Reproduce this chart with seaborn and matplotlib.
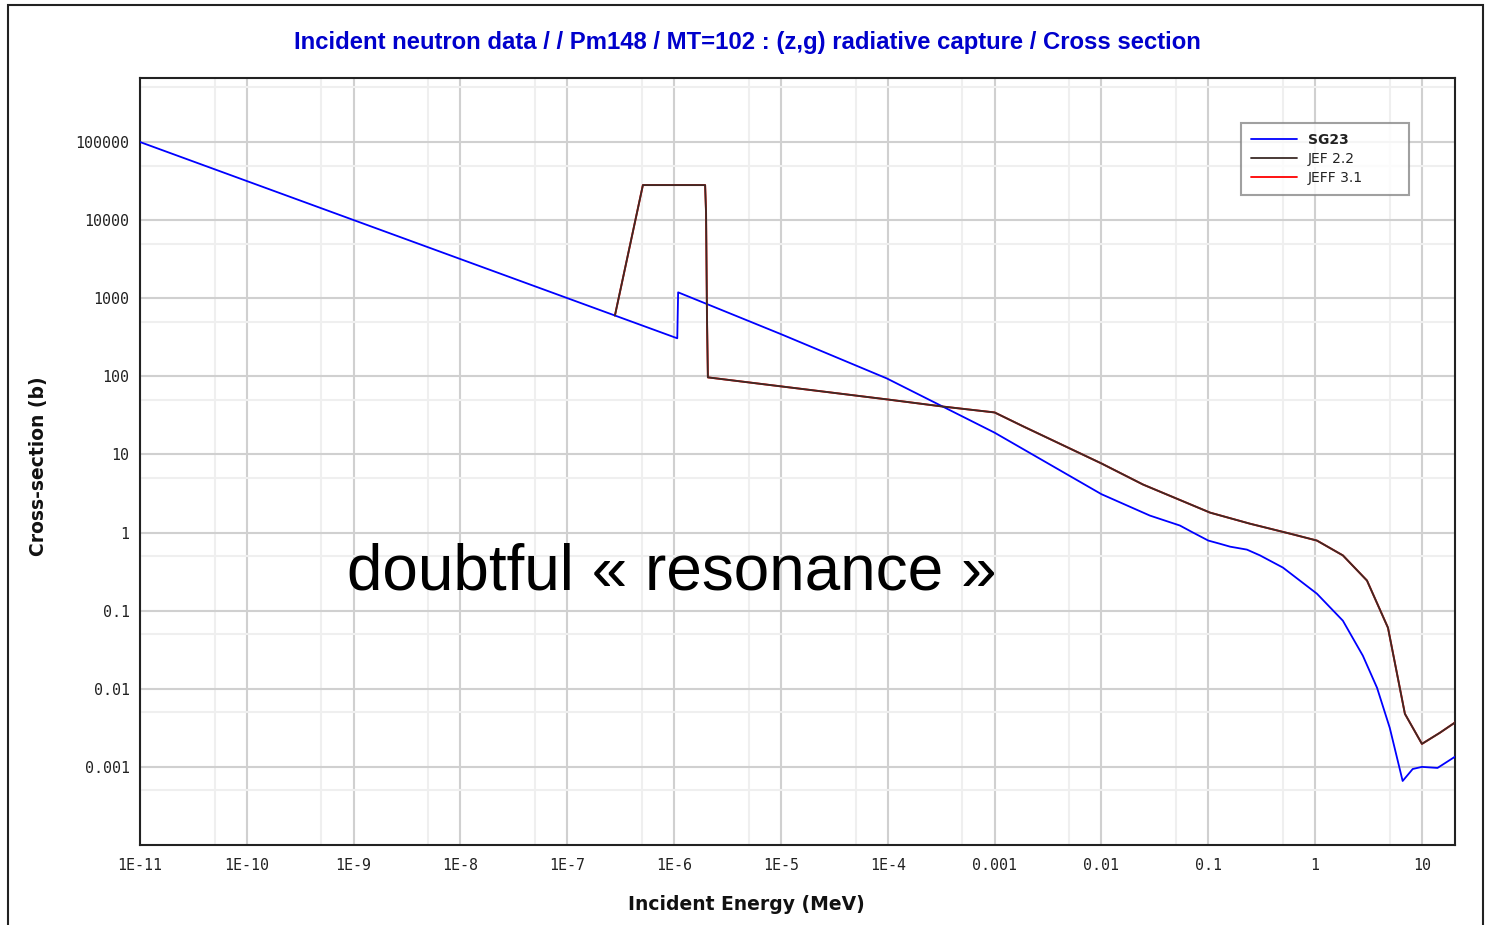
import numpy as np
import pandas as pd
import seaborn as sns
import matplotlib
matplotlib.use("Agg")
import matplotlib.pyplot as plt
from matplotlib.ticker import FixedLocator, FixedFormatter, NullFormatter
from matplotlib.lines import Line2D
from matplotlib.patches import Rectangle

# ---------------- data ----------------
title = "Incident neutron data / / Pm148 / MT=102 : (z,g) radiative capture / Cross section"
xlabel = "Incident Energy (MeV)"
ylabel = "Cross-section (b)"
annotation = "doubtful « resonance »"

sg23_energy = [1e-11, 1.07e-6, 1.09e-6, 1e-5, 9.8e-5, 1e-3, 0.01, 0.0284, 0.0543, 0.07,
               0.1, 0.128, 0.16, 0.23, 0.305, 0.5, 1.04, 1.82, 2.8, 3.8, 5.0, 6.6,
               8.2, 10.0, 14.0, 20.4]
sg23_xs = [1e5, 307, 1190, 347, 94, 19, 3.1, 1.65, 1.23, 1.02,
           0.79, 0.72, 0.66, 0.605, 0.51, 0.356, 0.165, 0.0744, 0.0265, 0.0103, 0.00316, 0.00066,
           0.00094, 0.001, 0.00097, 0.00135]

jef22_energy = [2.79e-7, 5.1e-7, 1.95e-6, 1.99e-6, 2.03e-6, 2.07e-6, 9.8e-5, 3.3e-4, 1e-3,
                1.85e-3, 0.01, 0.0245, 0.104, 0.245, 0.58, 1.04, 1.82, 3.06, 4.81, 6.93,
                10.0, 14.7, 20.4]
jef22_xs = [600, 28100, 28100, 12300, 570, 97, 50.7, 41, 34.5,
            22.9, 7.67, 4.12, 1.80, 1.30, 0.97, 0.79, 0.51, 0.243, 0.0605, 0.00478,
            0.00197, 0.00273, 0.0037]

jeff31_energy = list(jef22_energy)
jeff31_xs = list(jef22_xs)

series_names = ["SG23", "JEF 2.2", "JEFF 3.1"]
series_colors = ["#0000ff", "#3b2b26", "#ff0000"]

x_major = [1e-11, 1e-10, 1e-9, 1e-8, 1e-7, 1e-6, 1e-5, 1e-4, 1e-3, 1e-2, 1e-1, 1, 10]
x_labels = ["1E-11", "1E-10", "1E-9", "1E-8", "1E-7", "1E-6", "1E-5", "1E-4",
            "0.001", "0.01", "0.1", "1", "10"]
y_major = [1e-3, 1e-2, 1e-1, 1, 10, 100, 1000, 1e4, 1e5]
y_labels = ["0.001", "0.01", "0.1", "1", "10", "100", "1000", "10000", "100000"]

# ---------------- figure ----------------
sns.set_style("white")
plt.rcParams["font.family"] = ["Liberation Sans", "DejaVu Sans"]

fig = plt.figure(figsize=(14.87, 9.25), dpi=100)
ax = fig.add_axes([140 / 1487, 1 - 845 / 925, (1455 - 140) / 1487, (845 - 78) / 925])

df_sg = pd.DataFrame({"E": sg23_energy, "xs": sg23_xs})
df_jef = pd.DataFrame({"E": jef22_energy, "xs": jef22_xs})
df_jeff = pd.DataFrame({"E": jeff31_energy, "xs": jeff31_xs})

sns.lineplot(data=df_sg, x="E", y="xs", ax=ax, color=series_colors[0], lw=1.3,
             sort=False, estimator=None, zorder=4)
sns.lineplot(data=df_jeff, x="E", y="xs", ax=ax, color=series_colors[2], lw=1.4,
             sort=False, estimator=None, zorder=3)
sns.lineplot(data=df_jef, x="E", y="xs", ax=ax, color=series_colors[1], lw=1.3,
             sort=False, estimator=None, zorder=5)

ax.set_xscale("log")
ax.set_yscale("log")
ax.set_xlim(1e-11, 20.4)
ax.set_ylim(1e-4, 6.6e5)

# ticks
x_minor = [5 * 10.0 ** k for k in range(-11, 2)]
y_minor = [5 * 10.0 ** k for k in range(-4, 6)]
ax.xaxis.set_major_locator(FixedLocator(x_major))
ax.xaxis.set_major_formatter(FixedFormatter(x_labels))
ax.xaxis.set_minor_locator(FixedLocator(x_minor))
ax.xaxis.set_minor_formatter(NullFormatter())
ax.yaxis.set_major_locator(FixedLocator(y_major))
ax.yaxis.set_major_formatter(FixedFormatter(y_labels))
ax.yaxis.set_minor_locator(FixedLocator(y_minor))
ax.yaxis.set_minor_formatter(NullFormatter())

ax.tick_params(which="major", direction="inout", length=11, width=1.3, color="#222222",
               labelsize=10.8, labelcolor="#222222", pad=2)
ax.tick_params(axis="x", which="major", pad=3.5)
ax.tick_params(which="minor", direction="in", length=5, width=1.3, color="#222222")
for lab in ax.get_xticklabels() + ax.get_yticklabels():
    lab.set_family("DejaVu Sans Mono")

ax.grid(True, which="major", color="#d0d0d0", lw=1.5, zorder=0)
ax.grid(True, which="minor", color="#efefef", lw=1.5, zorder=0)
ax.set_axisbelow(True)

for sp in ax.spines.values():
    sp.set_color("#222222")
    sp.set_linewidth(1.5)

ax.set_xlabel(xlabel, fontsize=13.5, fontweight="bold", color="#111111",
              family="DejaVu Sans")
ax.set_ylabel(ylabel, fontsize=13.5, fontweight="bold", color="#111111",
              family="DejaVu Sans")
ax.xaxis.set_label_coords((746 - 140) / 1315, (845 - 895) / 767)
ax.yaxis.set_label_coords((48 - 140) / 1315, (845 - 466) / 767)

fig.text(747 / 1487, 1 - 42 / 925, title, ha="center", va="center", fontsize=17.2,
         fontweight="bold", color="#0000cc")

ax.text((347 - 140) / 1315, (845 - 590) / 767, annotation, transform=ax.transAxes,
        ha="left", va="baseline", fontsize=46, color="black", zorder=10)

# legend
handles = [Line2D([0], [0], color=c, lw=1.3) for c in series_colors]
leg_x0 = (1241 - 140) / 1315
leg_w = (1409 - 1241) / 1315
leg_top = (845 - 123) / 767
leg = ax.legend(handles, series_names, loc="upper left",
                bbox_to_anchor=(leg_x0, leg_top - 0.3, leg_w, 0.3), mode="expand",
                borderaxespad=0, frameon=True, fancybox=False, fontsize=10,
                handlelength=3.3, handletextpad=0.8, labelspacing=0.38,
                borderpad=0.7)
leg.get_frame().set_edgecolor("#888888")
leg.get_frame().set_linewidth(1.5)
for i, t in enumerate(leg.get_texts()):
    t.set_family("DejaVu Sans")
    t.set_color("#222222")
    if i == 0:
        t.set_fontweight("bold")

# outer frame
fig.patches.append(Rectangle((8 / 1487, -0.02), (1483 - 8) / 1487, 1.02 - 5 / 925,
                             transform=fig.transFigure, fill=False, ec="#222222", lw=1.5))

fig.savefig("out.png", dpi=100)
